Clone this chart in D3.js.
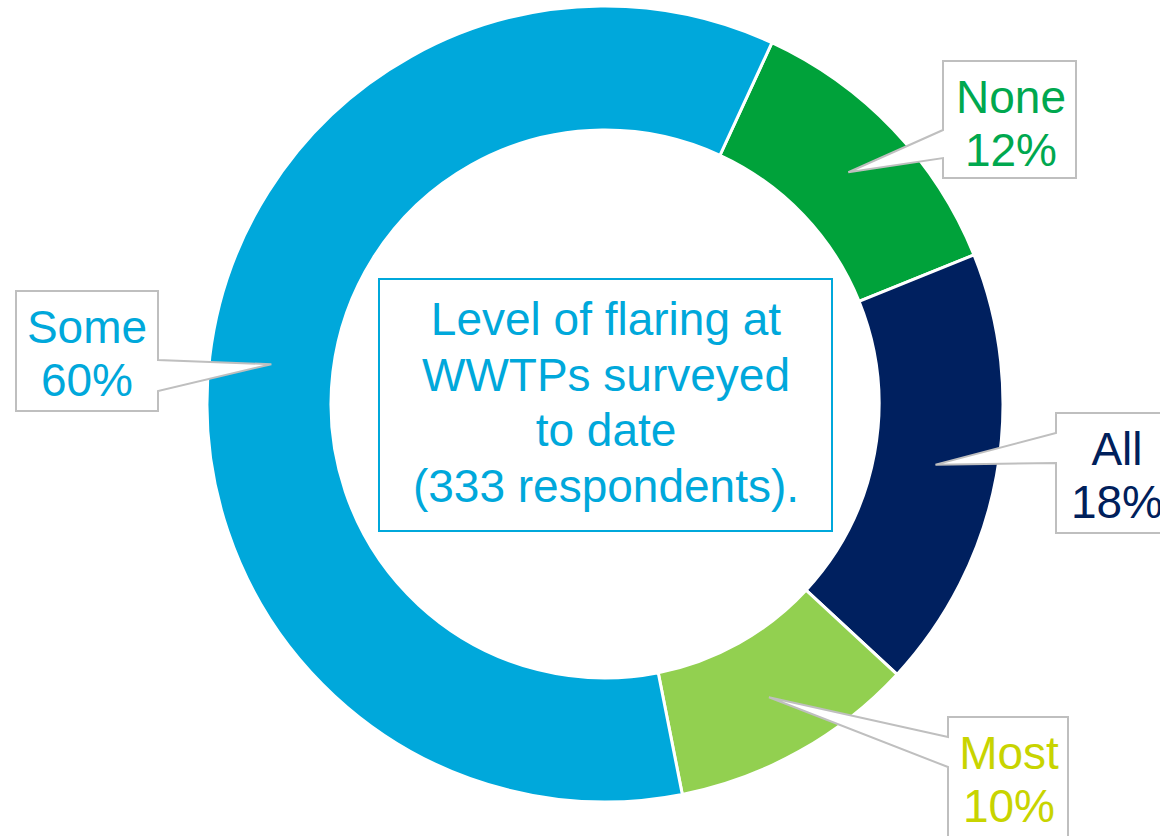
<!DOCTYPE html>
<html>
<head>
<meta charset="utf-8">
<script src="https://cdn.jsdelivr.net/npm/d3@7"></script>
<style>
  body { margin: 0; background: #fff; }
  svg { display: block; font-family: "Liberation Sans", Arial, Helvetica, sans-serif; }
</style>
</head>
<body>
<svg id="chart" width="1160" height="836"></svg>
<script>
// data
const categories = ["None", "All", "Most", "Some"];
const percents = [12, 18, 10, 60];
const centerLines = ["Level of flaring at", "WWTPs surveyed", "to date", "(333 respondents)."];

// styles
const sliceColors = ["#00A23A", "#00205F", "#92D050", "#00A8DB"];
const textColors = ["#00A84F", "#00205B", "#C8D400", "#00A8DB"];

const width = 1160, height = 836;
const cx = 605, cy = 404;
const outerR = 398, innerR = 274;
const startDeg = 24.8;

const svg = d3.select("#chart");
const g = svg.append("g").attr("transform", "translate(" + cx + "," + cy + ")");

const color = d3.scaleOrdinal().domain(categories).range(sliceColors);
const txtColor = d3.scaleOrdinal().domain(categories).range(textColors);

const pie = d3.pie()
  .sort(null)
  .value((d) => d.value)
  .startAngle(startDeg * Math.PI / 180)
  .endAngle((startDeg + 360) * Math.PI / 180);

const arc = d3.arc().innerRadius(innerR).outerRadius(outerR);

const rows = categories.map((c, i) => ({ name: c, value: percents[i] }));
const arcs = pie(rows);

g.selectAll(".slice")
  .data(arcs)
  .enter()
  .append("path")
  .attr("class", "slice")
  .attr("d", arc)
  .attr("fill", (d) => color(d.data.name))
  .attr("stroke", "#fff")
  .attr("stroke-width", 3);

// callout boxes (page coords): box rect, side of pointer, pointer base fractions
const callouts = {
  None: { x: 943, y: 61, w: 133, h: 117, side: "left", f1: 0.59, f2: 0.83, tx: 1011 },
  All: { x: 1056, y: 413, w: 132, h: 120, side: "left", f1: 0.167, f2: 0.417, tx: 1117 },
  Most: { x: 948, y: 717, w: 120, h: 120, side: "left", f1: 0.167, f2: 0.417, tx: 1009 },
  Some: { x: 16, y: 291, w: 142, h: 120, side: "right", f1: 0.575, f2: 0.833, tx: 87 },
};

arcs.forEach((d) => {
  const c = callouts[d.data.name];
  const cen = arc.centroid(d);
  const tipX = cx + cen[0], tipY = cy + cen[1];
  const y1 = c.y + c.h * c.f1, y2 = c.y + c.h * c.f2;
  const x0 = c.x, x1 = c.x + c.w, yb = c.y + c.h;
  let p;
  if (c.side === "left") {
    p = [[x0, c.y], [x1, c.y], [x1, yb], [x0, yb], [x0, y2], [tipX, tipY], [x0, y1]];
  } else {
    p = [[x0, c.y], [x1, c.y], [x1, y1], [tipX, tipY], [x1, y2], [x1, yb], [x0, yb]];
  }
  svg.append("path")
    .attr("d", d3.line()(p) + "Z")
    .attr("fill", "#fff")
    .attr("stroke", "#BFBFBF")
    .attr("stroke-width", 2)
    .attr("stroke-linejoin", "miter");

  const lbl = svg.append("text")
    .attr("text-anchor", "middle")
    .attr("font-size", 46)
    .attr("fill", txtColor(d.data.name));
  lbl.append("tspan").attr("x", c.tx).attr("y", c.y + 52).text(d.data.name);
  lbl.append("tspan").attr("x", c.tx).attr("y", c.y + 105).text(d.data.value + "%");
});

// center title box
svg.append("rect")
  .attr("x", 379)
  .attr("y", 279)
  .attr("width", 453)
  .attr("height", 252)
  .attr("fill", "#fff")
  .attr("stroke", "#00A8DB")
  .attr("stroke-width", 2);

svg.append("text")
  .attr("text-anchor", "middle")
  .attr("font-size", 46)
  .attr("fill", "#00A8DB")
  .selectAll("tspan")
  .data(centerLines)
  .enter()
  .append("tspan")
  .attr("x", 606)
  .attr("y", (d, i) => 335 + i * 55.7)
  .text((d) => d);
</script>
</body>
</html>
